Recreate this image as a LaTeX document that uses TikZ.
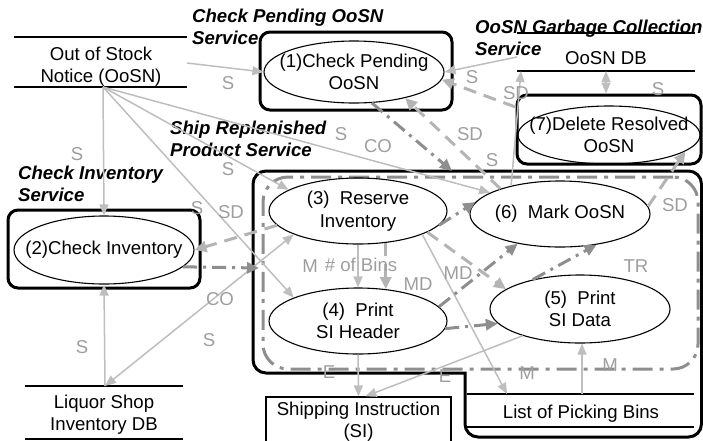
\documentclass[tikz,border=0pt]{standalone}
\usepackage{fontspec}
\setmainfont{Liberation Sans}
\usetikzlibrary{arrows.meta,shapes.geometric}

\definecolor{flowS}{HTML}{BEBEBE}
\definecolor{flowSD}{HTML}{B4B4B4}
\definecolor{flowCO}{HTML}{8E8E8E}
\definecolor{lblgray}{HTML}{9E9E9E}

\tikzset{
  txt/.style={font=\fontsize{18.6}{22.5}\selectfont, inner sep=0pt},
  title/.style={font=\fontsize{18.6}{22}\selectfont\bfseries\itshape, inner sep=0pt, align=left, anchor=north west},
  lab/.style={txt, text=lblgray},
  proc/.style={ellipse, txt, draw=black, line width=1.1pt, align=center,
    inner xsep=-120pt, inner ysep=-60pt, minimum width=180pt, minimum height=66pt},
  svcbox/.style={draw=black, line width=3pt, rounded corners=10pt, inner sep=0pt},
  groupbox/.style={draw=flowCO, line width=3pt, rounded corners=25pt, inner sep=0pt,
    dash pattern=on 20pt off 7pt on 4pt off 7pt},
  storeline/.style={draw=black, line width=1.3pt},
  sflow/.style={draw=flowS, line width=1.5pt, -{Triangle[length=11pt,width=9pt]}},
  sdflow/.style={draw=flowSD, line width=3pt, dash pattern=on 13pt off 8pt,
    -{Triangle[length=12pt,width=11pt]}},
  coflow/.style={draw=flowCO, line width=3pt, dash pattern=on 14pt off 6pt on 3pt off 6pt,
    -{Triangle[length=12pt,width=11pt]}},
}

\begin{document}
\begin{tikzpicture}[x=1pt,y=-1pt]
\useasboundingbox (0,0) rectangle (703,440);

% ---------- service containers ----------
\draw[draw=black, line width=3pt, line cap=rect]
  (465,373) [rounded corners=13pt] -- (253,373) -- (253,171) -- (701.5,171)
  -- (701.5,437) -- (465,437) -- (465,373);
\node[groupbox, minimum width=435pt, minimum height=192pt] (grp) at (480.5,273) {};
\node[svcbox, minimum width=192pt, minimum height=78pt] (b1) at (356,71) {};
\node[svcbox, minimum width=192pt, minimum height=78pt] (b2) at (104,249) {};
\node[svcbox, minimum width=184pt, minimum height=69pt] (b7) at (609,129.5) {};

\node[title] (t1) at (192,8.5) {Check Pending OoSN\\Service};
\node[title] (t7) at (475,19.5) {OoSN Garbage Collection\\Service};
\node[title] (t3) at (170,120.5) {Ship Replenished\\Product Service};
\node[title] (t2) at (18,165.5) {Check Inventory\\Service};

% ---------- data stores ----------
\node[txt, align=center] (oosn) at (101,66.5) {Out of Stock\\Notice (OoSN)};
\coordinate (oosnTL) at (14,37);  \coordinate (oosnTR) at (187,37);
\coordinate (oosnBL) at (14,87);  \coordinate (oosnBR) at (187,87);
\coordinate (oosnR) at (187,63);  \coordinate (oosnB) at (103,87);
\draw[storeline] (oosnTL) -- (oosnTR) (oosnBL) -- (oosnBR);

\node[txt] (oosndb) at (606,58.3) {OoSN DB};
\coordinate (dbTL) at (517,33);  \coordinate (dbTR) at (695,33);
\coordinate (dbBL) at (517,71);  \coordinate (dbBR) at (695,71);
\coordinate (dbL) at (517,57);   \coordinate (dbB) at (606,71);
\coordinate (dbBa) at (521,71);
\draw[storeline] (dbTL) -- (dbTR) (dbBL) -- (dbBR);

\node[txt, align=center] (liq) at (104,414.5) {Liquor Shop\\Inventory DB};
\coordinate (liqTL) at (25,386);  \coordinate (liqTR) at (183,386);
\coordinate (liqBL) at (25,439);  \coordinate (liqBR) at (183,439);
\coordinate (liqT) at (105,386);
\draw[storeline] (liqTL) -- (liqTR) (liqBL) -- (liqBR);

\node[txt] (bins) at (581,414) {List of Picking Bins};
\coordinate (binTL) at (467,394);  \coordinate (binTR) at (694,394);
\coordinate (binBL) at (467,427);  \coordinate (binBR) at (694,427);
\coordinate (binA) at (507,394);   \coordinate (binB) at (582,394);
\draw[storeline] (binTL) -- (binTR) (binBL) -- (binBR);

\node[txt, align=center, draw=black, line width=1.3pt, minimum width=185pt, minimum height=49pt]
  (si) at (358.5,421.5) {Shipping Instruction\\(SI)};

% ---------- processes ----------
\node[proc, minimum height=62pt] (e1) at (354,72) {(1)Check Pending\\OoSN};
\node[proc, minimum height=68pt] (e2) at (104,250) {(2)Check Inventory};
\node[proc, minimum width=178pt] (e3) at (358,211) {(3)\ \ Reserve\\Inventory};
\node[proc, minimum width=178pt] (e4) at (358,321) {(4)\ \ Print\\SI Header};
\node[proc, minimum height=68pt] (e5) at (580,309) {(5)\ \ Print\\SI Data};
\node[proc] (e6) at (560,214) {(6)\ \ Mark OoSN};
\node[proc, minimum width=182pt, minimum height=58pt] (e7) at (609,135) {(7)Delete Resolved\\OoSN};

\coordinate (bigtop) at (452,171);
\coordinate (bigleft) at (259,268);

% ---------- solid flows ----------
\draw[sflow] (oosnR) -- (e1.west);
\draw[sflow] (oosnB) -- (e2.north);
\draw[sflow] (oosnB) -- (e3.163);
\draw[sflow] (oosnB) -- (e4.160);
\draw[sflow] (oosnB) -- (e6.163);
\draw[sflow] (liqT) -- (e2.south);
\draw[sflow, {Triangle[length=11pt,width=9pt]}-{Triangle[length=11pt,width=9pt]}] (liqT) -- (e3.200);
\draw[sflow] (dbL) -- (e1.east);
\draw[sflow] (e6.150) -- (dbBa);
\draw[sflow, {Triangle[length=11pt,width=9pt]}-{Triangle[length=11pt,width=9pt]}] (dbB) -- (dbB |- b7.north);
\draw[sflow] (e3.south) -- (e4.north);
\draw[sflow] (e3.-20) -- (binA);
\draw[sflow] (binB) -- (binB |- e5.south);
\draw[sflow] (e4.south) -- (si.north);
\draw[sflow] (e5.205) -- ([xshift=7pt]si.north);

% ---------- dashed flows ----------
\draw[sdflow] (e3.190) -- (e2.east);
\draw[sdflow] (e6.157) -- (e1.-27);
\draw[sdflow] ([yshift=22.5pt]b7.west) -- (e1.-5);
\draw[sdflow] (e3.-17) -- (e5.165);
\draw[sdflow] (e3.-49) -- (e4.49);
\draw[sdflow] (e6.5) -- (e7.-12);

% ---------- dash-dot flows ----------
\draw[coflow] (e1.-60) -- (bigtop);
\draw[coflow] (e2.-12) -- (bigleft);
\draw[coflow] (e3.-10) -- (e6.172);
\draw[coflow] (e4.10) -- (e6.-145);
\draw[coflow] (e4.-5) -- (e5.190);
\draw[coflow] (e5.148) -- (e6.-40);

% ---------- flow labels ----------
\node[lab] (l1) at (228,83) {S};
\node[lab] (l2) at (77,154) {S};
\node[lab] (l3) at (228,169) {S};
\node[lab] (l4) at (197,208) {S};
\node[lab] (l5) at (231,212) {SD};
\node[lab] (l6) at (341,134) {S};
\node[lab] (l7) at (378,146) {CO};
\node[lab] (l8) at (470,134) {SD};
\node[lab] (l9) at (492,160) {S};
\node[lab] (l10) at (472,77) {S};
\node[lab] (l11) at (516,93) {SD};
\node[lab] (l12) at (658,89) {S};
\node[lab] (l13) at (675,205) {SD};
\node[lab] (l14) at (310,266) {M};
\node[lab] (l15) at (361,265) {\# of Bins};
\node[lab] (l16) at (418,284) {MD};
\node[lab] (l17) at (458,273) {MD};
\node[lab] (l18) at (636,266) {TR};
\node[lab] (l19) at (220,299) {CO};
\node[lab] (l20) at (209,340) {S};
\node[lab] (l21) at (82,347) {S};
\node[lab] (l22) at (329,372) {E};
\node[lab] (l23) at (445,376) {E};
\node[lab] (l24) at (527,373) {M};
\node[lab] (l25) at (610,365) {M};
\end{tikzpicture}
\end{document}
